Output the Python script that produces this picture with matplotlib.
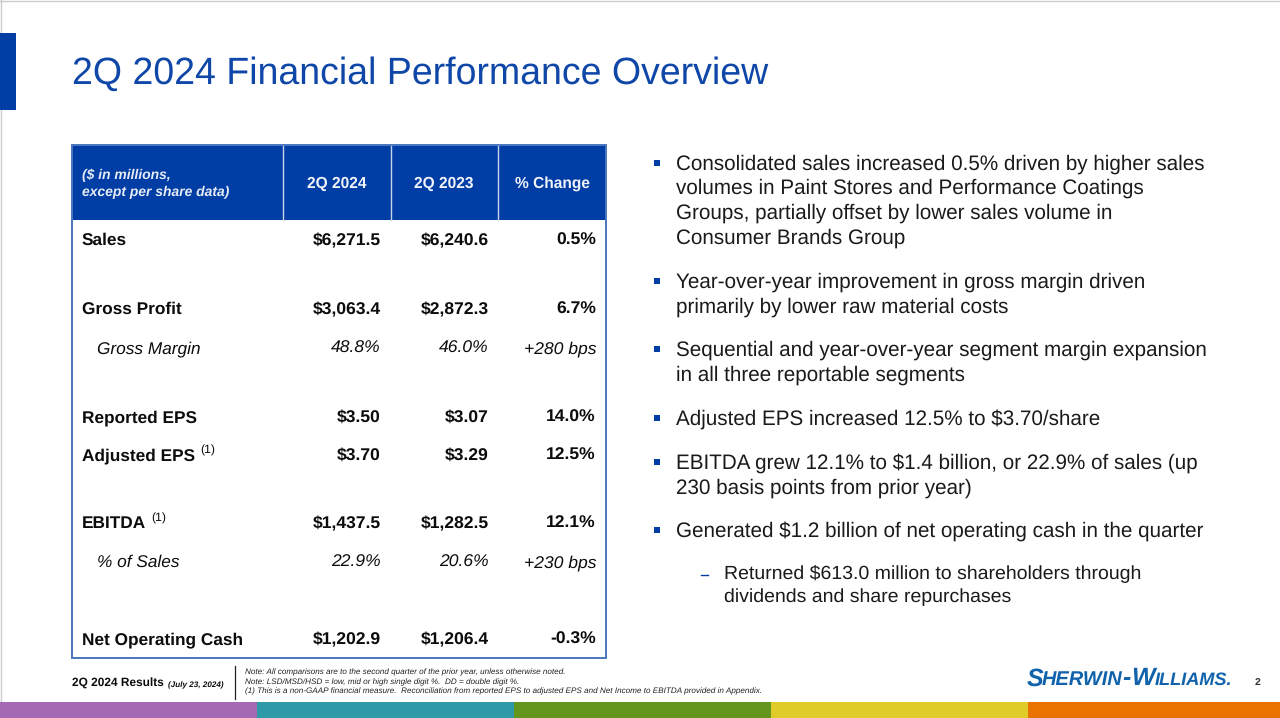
import matplotlib
matplotlib.use("Agg")
import matplotlib.pyplot as plt
from matplotlib.patches import Rectangle

plt.rcParams['font.family'] = ['Liberation Sans', 'DejaVu Sans']
plt.rcParams['text.hinting'] = 'no_hinting'

BLUE = '#003da5'
TITLE_BLUE = '#0f47a8'
TEXT = '#0c0c0c'
LOGO = '#0f62ab'

title = "2Q 2024 Financial Performance Overview"
headers = ["2Q 2024", "2Q 2023", "% Change"]
row_labels = ["Sales", "Gross Profit", "Gross Margin", "Reported EPS", "Adjusted EPS", "EBITDA",
              "% of Sales", "Net Operating Cash"]
col_2024 = ["$6,271.5", "$3,063.4", "48.8%", "$3.50", "$3.70", "$1,437.5", "22.9%", "$1,202.9"]
col_2023 = ["$6,240.6", "$2,872.3", "46.0%", "$3.07", "$3.29", "$1,282.5", "20.6%", "$1,206.4"]
col_change = ["0.5%", "6.7%", "+280 bps", "14.0%", "12.5%", "12.1%", "+230 bps", "-0.3%"]
row_italic = [False, False, True, False, False, False, True, False]
row_note = [False, False, False, False, True, True, False, False]

# text baselines of the rows
row_y = [245, 314, 353, 422, 460, 528, 567, 644]
col_x = [381, 489, 596]
header_x = [336.5, 444, 552]

bullets = [
    (164, 0, "Consolidated sales increased 0.5% driven by higher sales"),
    (188, None, "volumes in Paint Stores and Performance Coatings"),
    (213, None, "Groups, partially offset by lower sales volume in"),
    (238, None, "Consumer Brands Group"),
    (282, 0, "Year-over-year improvement in gross margin driven"),
    (307, None, "primarily by lower raw material costs"),
    (350, 0, "Sequential and year-over-year segment margin expansion"),
    (375, None, "in all three reportable segments"),
    (419, 0, "Adjusted EPS increased 12.5% to $3.70/share"),
    (463, 0, "EBITDA grew 12.1% to $1.4 billion, or 22.9% of sales (up"),
    (488, None, "230 basis points from prior year)"),
    (531, 0, "Generated $1.2 billion of net operating cash in the quarter"),
    (574, 1, "Returned $613.0 million to shareholders through"),
    (597, 2, "dividends and share repurchases"),
]

footnotes = [
    "Note: All comparisons are to the second quarter of the prior year, unless otherwise noted.",
    "Note: LSD/MSD/HSD = low, mid or high single digit %.  DD = double digit %.",
    "(1) This is a non-GAAP financial measure.  Reconciliation from reported EPS to adjusted EPS and Net Income to EBITDA provided in Appendix.",
]
strip_colors = ['#a569b3', '#2e9aa8', '#64961e', '#e0cc28', '#ea7300']


def px(size):
    return size * 0.72


fig = plt.figure(figsize=(12.8, 7.18), dpi=100)
ax = fig.add_axes([0, 0, 1, 1])
ax.set_xlim(0, 1280)
ax.set_ylim(718, 0)
ax.axis('off')

# slide edge and side tab
ax.plot([0.5, 0.5], [0, 703], color='#cccccc', lw=1, zorder=0.5)
ax.plot([0, 1280], [0.5, 0.5], color='#cccccc', lw=1, zorder=0.5)
ax.add_patch(Rectangle((0, 33), 16, 77, color=BLUE, lw=0))
ax.text(72, 74, title, fontsize=px(37.5), color=TITLE_BLUE, va='center', ha='left')

# table
ax.add_patch(Rectangle((72, 145), 534, 75, color=BLUE, lw=0))
ax.add_patch(Rectangle((72, 145), 534, 513, fill=False, edgecolor='#4a76bd', lw=1.4))
for x in [283, 391, 498]:
    ax.plot([x, x], [146, 220], color='#c9d4ea', lw=1.0)
ax.text(82, 175, "($ in millions,", fontsize=px(13.9), color='#e6ebf5', style='italic',
        weight='bold', va='center')
ax.text(82, 192.5, "except per share data)", fontsize=px(13.9), color='#e6ebf5', style='italic',
        weight='bold', va='center')
for x, h in zip(header_x, headers):
    ax.text(x, 184, h, fontsize=px(15.5), color='#f0f3fa', weight='bold', ha='center', va='center')

for i, label in enumerate(row_labels):
    y = row_y[i]
    if row_italic[i]:
        kw = dict(style='italic', weight='normal')
        lx = 97
    else:
        kw = dict(style='normal', weight='bold')
        lx = 82
    t = ax.text(lx, y, label, fontsize=px(17.3), color=TEXT, va='baseline', **kw)
    if row_note[i]:
        fig.canvas.draw()
        bb = t.get_window_extent()
        ax.text(bb.x1 + 5, y - 10, "(1)", fontsize=px(12.3), color=TEXT, va='center')
    for x, col in zip(col_x, [col_2024, col_2023, col_change]):
        ax.text(x, y, col[i], fontsize=px(17.5), color=TEXT, ha='right', va='baseline', **kw)

# bullet list
for y, level, line in bullets:
    x = 724 if level in (1, 2) else 676
    ax.text(x, y, line, fontsize=px(20.68 if x == 676 else 19.5), color='#1a1a1a', va='center')
    if level == 0:
        ax.add_patch(Rectangle((654, y - 4), 5.5, 5.5, color=BLUE, lw=0))
    elif level == 1:
        ax.plot([701, 708], [y + 0.5, y + 0.5], color=BLUE, lw=1.0)

# footer
ax.text(72, 684, "2Q 2024 Results", fontsize=px(11.85), weight='bold', color=TEXT, va='center')
ax.text(168, 685, "(July 23, 2024)", fontsize=px(8.2), weight='bold', style='italic', color=TEXT, va='center')
ax.plot([234.5, 234.5], [666, 699], color='#222222', lw=0.9)
for y, line in zip([672.5, 682, 691.5], footnotes):
    ax.text(245, y, line, fontsize=px(8.12), style='italic', color='#222222', va='center')

ax.text(1027, 679, "S", fontsize=px(25), style='italic', weight='bold', color=LOGO, va='center')
ax.text(1042, 680, "HERWIN", fontsize=px(20), style='italic', weight='bold', color=LOGO, va='center')
ax.text(1122, 679, "-", fontsize=px(25), style='italic', weight='bold', color=LOGO, va='center')
ax.text(1131, 679, "W", fontsize=px(25), style='italic', weight='bold', color=LOGO, va='center')
ax.text(1155, 680, "ILLIAMS.", fontsize=px(18.2), style='italic', weight='bold', color=LOGO, va='center')
ax.text(1258, 682, "2", fontsize=px(10.5), weight='bold', color='#333333', ha='center', va='center')

# color strip
for i, c in enumerate(strip_colors):
    ax.add_patch(Rectangle((i * 257, 702), 257, 16, color=c, lw=0))

fig.savefig('out.png', dpi=100)
